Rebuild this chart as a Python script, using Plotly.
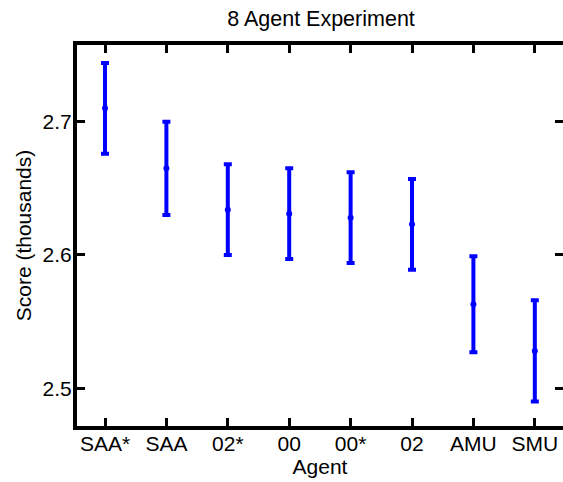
import plotly.graph_objects as go

agents = ["SAA*", "SAA", "02*", "00", "00*", "02", "AMU", "SMU"]
means = [2.710, 2.665, 2.634, 2.631, 2.628, 2.623, 2.563, 2.528]
errors = [0.034, 0.035, 0.034, 0.034, 0.034, 0.034, 0.036, 0.038]
y_ticks = [2.5, 2.6, 2.7]
y_tick_labels = ["2.5", "2.6", "2.7"]

FONT = "Liberation Sans, Arial, sans-serif"
FS = 21

fig = go.Figure()
fig.add_trace(go.Scatter(
    x=list(range(len(agents))), y=means, mode="markers",
    marker=dict(color="#0000FF", size=6),
    error_y=dict(type="data", array=errors, visible=True, color="#0000FF",
                 thickness=4, width=4),
    showlegend=False, cliponaxis=False,
))
# invisible trace to anchor the right-side tick axis
fig.add_trace(go.Scatter(x=[0], y=[means[0]], yaxis="y2", mode="markers",
                         marker=dict(opacity=0), hoverinfo="skip", showlegend=False))

fig.update_layout(
    width=563, height=482,
    margin=dict(l=77, r=0, t=45, b=56),
    paper_bgcolor="white", plot_bgcolor="white",
    font=dict(family=FONT, size=FS, color="black"),
    title=dict(text="8 Agent Experiment", x=321/563, xref="container", xanchor="center",
               y=1 - 18.5/482, yref="container", yanchor="middle",
               font=dict(size=21.5, family=FONT, color="black")),
    xaxis=dict(range=[-0.456, 7.459], tickmode="array",
               tickvals=list(range(len(agents))), ticktext=agents,
               showline=True, linewidth=4, linecolor="black", mirror="ticks",
               ticks="inside", ticklen=8, tickwidth=3, tickcolor="black",
               ticklabelstandoff=-4,
               showgrid=False, zeroline=False,
               title=dict(text="Agent", standoff=0, font=dict(size=FS))),
    yaxis=dict(range=[2.4717, 2.7575], tickmode="array", tickvals=y_ticks,
               ticktext=y_tick_labels,
               showline=True, linewidth=4, linecolor="black",
               ticks="inside", ticklen=8, tickwidth=3, tickcolor="black",
               ticklabelstandoff=-3,
               showgrid=False, zeroline=False,
               title=dict(text="Score (thousands)", standoff=6, font=dict(size=FS))),
    yaxis2=dict(range=[2.4717, 2.7575], overlaying="y", side="right",
                tickmode="array", tickvals=y_ticks, showticklabels=False,
                ticks="inside", ticklen=8, tickwidth=3, tickcolor="black",
                showline=False, showgrid=False, zeroline=False),
)

fig.write_html("out.html", config={"displayModeBar": False},
               post_script="document.body.style.margin='0';document.body.style.overflow='hidden';")
